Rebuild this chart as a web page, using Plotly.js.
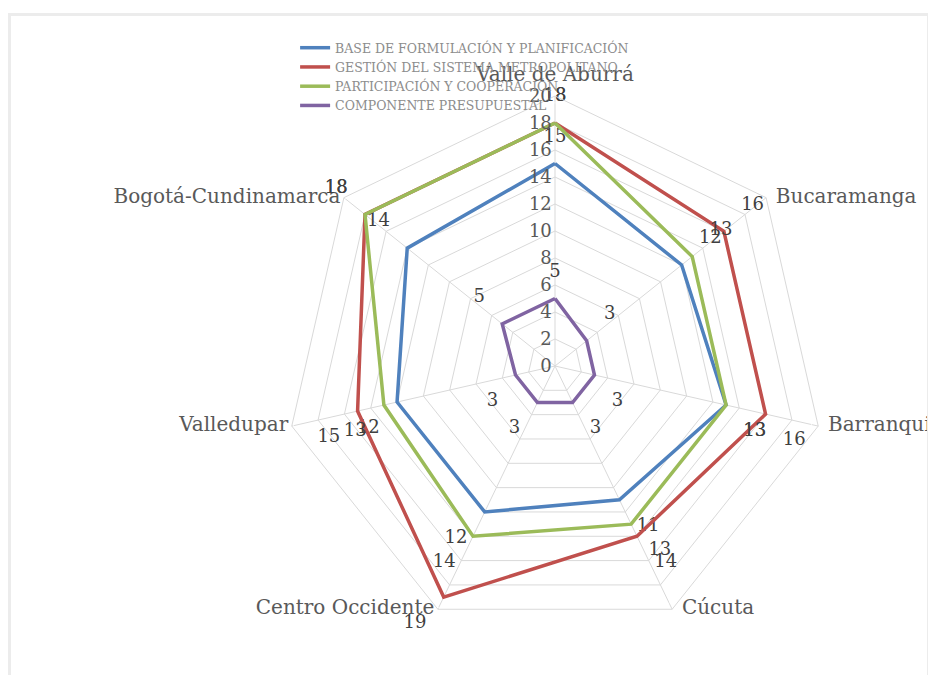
<!DOCTYPE html>
<html><head><meta charset="utf-8">
<script src="https://cdn.plot.ly/plotly-3.0.1.min.js"></script>
<style>
html,body{margin:0;padding:0;background:#fff;overflow:hidden}
#chart{width:928px;height:675px}
#frame{position:absolute;left:8px;top:13px;width:916px;height:700px;border:3px solid #ececec;pointer-events:none}
</style></head><body>
<div id="chart"></div><div id="frame"></div>
<script>
const categories = ["Valle de Aburrá","Bucaramanga","Barranquilla","Cúcuta","Centro Occidente","Valledupar","Bogotá-Cundinamarca"];
const seriesNames = ["BASE DE FORMULACIÓN Y PLANIFICACIÓN","GESTIÓN DEL SISTEMA METROPOLITANO","PARTICIPACIÓN Y COOPERACIÓN","COMPONENTE PRESUPUESTAL"];
const base = [15,12,13,11,12,12,14];
const gestion = [18,16,16,14,19,15,18];
const participacion = [18,13,13,13,14,13,18];
const presupuestal = [5,3,3,3,3,3,5];
const radialTicks = [0,2,4,6,8,10,12,14,16,18,20];
const radialMax = 20;

const colors = ["#4F81BD","#C0504D","#9BBB59","#8064A2"];
const labelPos = ["top center","top right","bottom right","bottom right","bottom left","bottom left","top left"];
const catLabelPos = ["top center","middle right","middle right","middle right","middle left","middle left","middle left"];
const catLabelGap = [14,14,14,14,4,4,4];
const FONT = "DejaVu Serif, serif";

function mk(name, vals, color){
  return {
    type:"scatterpolar", name:name,
    r: vals.concat([vals[0]]),
    theta: categories.concat([categories[0]]),
    text: vals.map(String).concat([""]),
    mode:"lines+markers+text",
    textposition: labelPos.concat(["top center"]),
    textfont:{family:FONT,size:18,color:"#404040"},
    line:{color:color,width:3.5},
    marker:{size:26,color:"rgba(0,0,0,0)"},
    cliponaxis:false,
    hoverinfo:"skip"
  };
}
const catLabels = {
  type:"scatterpolar", showlegend:false,
  r: categories.map(() => radialMax),
  theta: categories,
  text: categories,
  mode:"markers+text",
  textposition: catLabelPos,
  textfont:{family:FONT,size:20,color:"#595959"},
  marker:{size:catLabelGap,color:"rgba(0,0,0,0)"},
  cliponaxis:false,
  hoverinfo:"skip"
};
const data = [
  catLabels,
  mk(seriesNames[0], base, colors[0]),
  mk(seriesNames[1], gestion, colors[1]),
  mk(seriesNames[2], participacion, colors[2]),
  mk(seriesNames[3], presupuestal, colors[3])
];
const layout = {
  width:928, height:675,
  margin:{l:285,r:103,t:96,b:39,autoexpand:false},
  paper_bgcolor:"#fff",
  font:{family:FONT,color:"#595959"},
  showlegend:true,
  legend:{xref:"container",yref:"container",x:0.318,y:0.951,xanchor:"left",yanchor:"top",
    font:{family:FONT,size:12.5,color:"#8c8c8c"},bgcolor:"rgba(0,0,0,0)",itemwidth:30,tracegroupgap:0},
  polar:{
    bgcolor:"#fff",
    gridshape:"linear",
    domain:{x:[0,1],y:[0,1]},
    angularaxis:{type:"category",categoryarray:categories,rotation:90,direction:"clockwise",
      showline:true,linecolor:"#d9d9d9",linewidth:1,gridcolor:"#d9d9d9",ticks:"",showticklabels:false},
    radialaxis:{range:[0,radialMax],tickvals:radialTicks,angle:90,side:"counterclockwise",tickangle:90,
      showline:false,ticks:"",gridcolor:"#d9d9d9",
      tickfont:{family:FONT,size:18,color:"#595959"}}
  }
};
Plotly.newPlot("chart",data,layout,{displayModeBar:false,staticPlot:true});
</script>
</body></html>
